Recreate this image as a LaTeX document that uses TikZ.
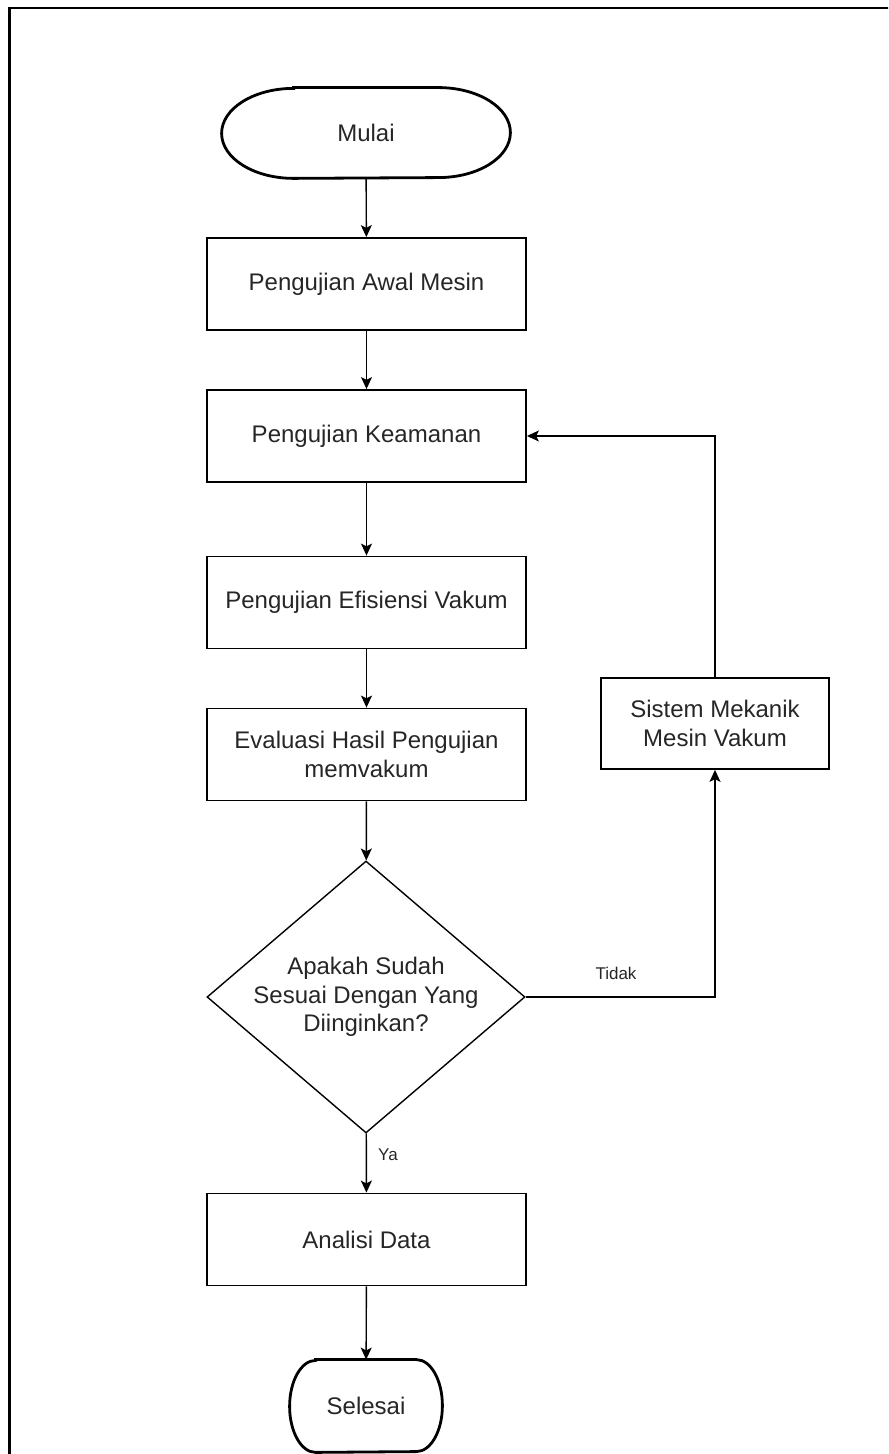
\documentclass[tikz,border=0pt]{standalone}
\usepackage{fontspec}
\setmainfont{Liberation Sans}
\usetikzlibrary{arrows.meta}
\usetikzlibrary{shapes.geometric}
\tikzset{
    proc/.style = {draw, line width=0.9pt, minimum width=159.5pt, minimum height=46pt,
        align=center, inner sep=2pt, text=black!85,
        font=\fontsize{12pt}{14.8pt}\selectfont},
    term/.style = {minimum width=144pt, minimum height=45pt, text=black!85,
        font=\fontsize{12pt}{14.8pt}\selectfont},
    termline/.style = {line width=1.4pt},
    cond/.style = {draw, diamond, line width=0.7pt, minimum width=159pt, minimum height=136pt,
        inner sep=0pt},
    condtext/.style = {align=center, inner sep=0pt, text=black!85,
        font=\fontsize{12pt}{14.3pt}\selectfont},
    lbl/.style = {text=black!85, font=\fontsize{8.5pt}{10pt}\selectfont, inner sep=0pt},
    arr/.style = {-{Stealth[length=6pt,width=5.5pt,inset=1.4pt]}, line width=0.7pt}
}

\begin{document}
\begin{tikzpicture}[x=0.5pt,y=0.5pt]
        \useasboundingbox (0,0) rectangle (888,1454);
        \clip (0,0) rectangle (888,1454);
        \draw[line width=1.1pt] (9.5,1446) rectangle (900,-20);

        \node[term] (1) at (366, 1321) {Mulai};
        \node[proc] (2) at (366.5, 1170) {Pengujian Awal Mesin};
        \node[proc] (3) at (366.5, 1018) {Pengujian Keamanan};
        \node[proc] (4) at (366.5, 851.5) {Pengujian Efisiensi Vakum};
        \node[proc] (5) at (366.5, 699.5) {Evaluasi Hasil Pengujian\\memvakum};
        \node[cond] (6) at (366, 457) {};
        \node[condtext] (6t) at (6) {Apakah Sudah\\Sesuai Dengan Yang\\Diinginkan?};
        \node[proc, minimum width=114pt, minimum height=45.5pt] (7) at (715, 730.5) {Sistem Mekanik\\Mesin Vakum};
        \node[proc] (8) at (366.5, 214.5) {Analisi Data};
        \node[term, minimum width=76pt, minimum height=46pt] (9) at (366, 48) {Selesai};

        \node[lbl] (t) at (616, 481) {Tidak};
        \node[lbl] (y) at (388, 299) {Ya};

        \draw[termline] ([xshift=36pt]1.north west) -- ([xshift=-36pt]1.north east)
            arc[start angle=90, end angle=-90, x radius=36pt, y radius=22.5pt]
            -- ([xshift=36pt]1.south west)
            arc[start angle=270, end angle=90, x radius=36pt, y radius=22.5pt] -- cycle;
        \draw[termline] ([xshift=13pt]9.north west) -- ([xshift=-13pt]9.north east)
            arc[start angle=90, end angle=-90, x radius=13pt, y radius=23pt]
            -- ([xshift=13pt]9.south west)
            arc[start angle=270, end angle=90, x radius=13pt, y radius=23pt] -- cycle;

        \path[arr]
            (1) edge (2)
            (2) edge (3)
            (3) edge (4)
            (4) edge (5)
            (5) edge (6)
            (6) edge (8)
            (8) edge (9)
        ;
        \draw[arr] (6.east) -| (7.south);
        \draw[arr] (7.north) |- (3.east);
    \end{tikzpicture}
\end{document}
